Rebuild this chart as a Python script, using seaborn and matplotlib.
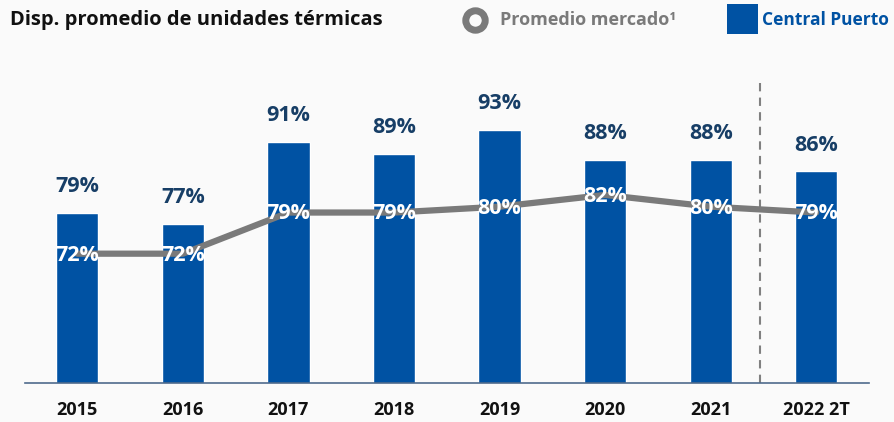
import numpy as np
import pandas as pd
import matplotlib
matplotlib.use("Agg")
import matplotlib.pyplot as plt
from matplotlib.lines import Line2D
from matplotlib.patches import Rectangle
import seaborn as sns

# ---- data ----
years = ["2015", "2016", "2017", "2018", "2019", "2020", "2021", "2022 2T"]
central_puerto = [79, 77, 91, 89, 93, 88, 88, 86]
promedio_mercado = [72, 72, 79, 79, 80, 82, 80, 79]

title = "Disp. promedio de unidades térmicas"
legend_market = "Promedio mercado¹"
legend_cp = "Central Puerto"

BLUE = "#0052A3"
NAVY = "#173E66"
GREY = "#7A7A7A"
BG = "#FAFAFA"
AXIS = "#4F6B8C"

sns.set_theme(style="white")
plt.rcParams["font.family"] = ["Open Sans", "DejaVu Sans"]

W, H = 894, 422
fig = plt.figure(figsize=(W / 100, H / 100), dpi=100, facecolor=BG)
ax = fig.add_axes([24.5 / W, (H - 383) / H, (869 - 24.5) / W, 0.8585 - (H - 383) / H])
ax.set_facecolor(BG)

df = pd.DataFrame({"year": years, "cp": central_puerto, "mkt": promedio_mercado})
sns.barplot(data=df, x="year", y="cp", color=BLUE, saturation=1, width=0.4, ax=ax)
xpos = np.arange(len(years))
sns.lineplot(x=xpos, y=df["mkt"].values, color=GREY, linewidth=4.5, ax=ax, zorder=3)

ax.set_xlim(-0.5, len(years) - 0.5)
ax.set_ylim(50, 105)

# labels
for i, v in enumerate(central_puerto):
    ax.annotate(f"{v}%", (i, v), xytext=(0, 19), textcoords="offset points",
                ha="center", va="center", fontsize=15.5, fontweight="bold", color=NAVY)
for i, v in enumerate(promedio_mercado):
    ax.annotate(f"{v}%", (i, v), xytext=(0, -1), textcoords="offset points",
                ha="center", va="center", fontsize=15.5, fontweight="bold", color="white", zorder=5)

# dashed separator
ax.axvline(6.47, ymin=0, ymax=0.937, color="#808080", linestyle=(0, (4, 3)), linewidth=1.5)

# axes styling
for s in ["top", "right", "left"]:
    ax.spines[s].set_visible(False)
ax.spines["bottom"].set_color(AXIS)
ax.spines["bottom"].set_linewidth(1.2)
ax.set_yticks([])
ax.set_xlabel("")
ax.set_ylabel("")
ax.set_xticks(xpos)
ax.set_xticklabels(years, fontsize=13, fontweight="bold", color="#111111")
ax.tick_params(axis="x", which="major", length=0, pad=13)
ax.set_xticks(np.arange(-0.5, len(years)), minor=True)
ax.tick_params(axis="x", which="minor", length=4.5, width=1, color=AXIS, direction="out")

# title
fig.text(10 / W, 1 - 20 / H, title, ha="left", va="center", fontsize=14.5,
         fontweight="bold", color="#111111")

# legend
fig.add_artist(Line2D([475 / W], [1 - 20 / H], marker="o", markersize=14,
                      markeredgewidth=5, markeredgecolor=GREY, markerfacecolor=BG,
                      transform=fig.transFigure))
fig.text(500 / W, 1 - 20 / H, legend_market, ha="left", va="center", fontsize=13,
         fontweight="bold", color=GREY)
fig.add_artist(Rectangle((727 / W, 1 - 34 / H), 31 / W, 30 / H, facecolor=BLUE,
                         edgecolor="none", transform=fig.transFigure))
fig.text(762 / W, 1 - 20 / H, legend_cp, ha="left", va="center", fontsize=12.5,
         fontweight="bold", color=BLUE)

fig.savefig("out.png", dpi=100, facecolor=BG)
